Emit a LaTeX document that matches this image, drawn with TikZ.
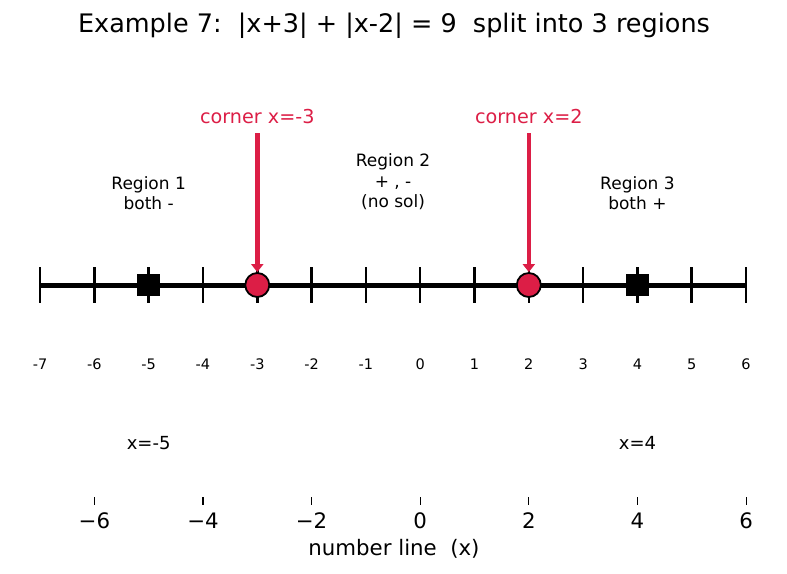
\documentclass[tikz,border=0pt]{standalone}
\usepackage{fontspec}
\setmainfont{DejaVu Sans}
\usetikzlibrary{arrows.meta}
\definecolor{crim}{RGB}{220,30,70}
\tikzset{
  numline/.style={line width=5pt},
  tickmark/.style={line width=2.5pt},
  corner/.style={circle, draw=black, line width=1.8pt, fill=crim, minimum size=24pt, inner sep=0pt},
  sqmark/.style={rectangle, fill=black, minimum size=22.5pt, inner sep=0pt},
  cornerlbl/.style={text=crim, font=\fontsize{19.2}{23}\selectfont, inner sep=0pt},
  regionlbl/.style={align=center, font=\fontsize{17}{20.4}\selectfont, inner sep=0pt},
  smalltick/.style={font=\fontsize{14.5}{17}\selectfont, inner sep=0pt},
  ptlbl/.style={font=\fontsize{18}{21}\selectfont, inner sep=0pt},
  axlbl/.style={font=\fontsize{21.3}{25}\selectfont, inner sep=0pt},
  cornerarrow/.style={draw=crim, line width=4.6pt, -{Triangle[length=8pt,width=12pt]}},
}
\begin{document}
\begin{tikzpicture}[x=1pt,y=-1pt]
\useasboundingbox (0,0) rectangle (787,573);
\def\ux{54.308}
\def\xo{420.2}
% title
\node[font=\fontsize{25.5}{30}\selectfont, inner sep=0pt] (title) at (394,26) {Example 7:\ \ |x+3| + |x-2| = 9\ \ split into 3 regions};
% number line
\coordinate (L) at (39,285);
\coordinate (R) at (747,285);
\draw[numline] (L) -- (R);
\foreach \v in {-7,...,6}{
  \draw[tickmark] ({\xo+\ux*\v},267) -- ({\xo+\ux*\v},303);
  \node[smalltick] (t\v) at ({\xo+\ux*\v},364) {\v};
}
% squares
\node[sqmark] (s1) at ({\xo+\ux*(-5)},285) {};
\node[sqmark] (s2) at ({\xo+\ux*4},285) {};
% corner circles
\node[corner] (c1) at ({\xo+\ux*(-3)},285) {};
\node[corner] (c2) at ({\xo+\ux*2},285) {};
% corner labels and arrows
\node[cornerlbl] (k1) at ({\xo+\ux*(-3)},117) {corner x=-3};
\node[cornerlbl] (k2) at ({\xo+\ux*2},117) {corner x=2};
\coordinate (a1) at ({\xo+\ux*(-3)},133);
\coordinate (a2) at ({\xo+\ux*2},133);
\draw[cornerarrow] (a1) -- (c1.north);
\draw[cornerarrow] (a2) -- (c2.north);
% region labels
\node[regionlbl] (r1) at ({\xo+\ux*(-5)},193) {Region 1\\both -};
\node[regionlbl] (r2) at ({\xo+\ux*(-0.5)},182) {Region 2\\+ , -\\(no sol)};
\node[regionlbl] (r3) at ({\xo+\ux*4},193) {Region 3\\both +};
% point labels
\node[ptlbl] (p1) at ({\xo+\ux*(-5)},443) {x=-5};
\node[ptlbl] (p2) at ({\xo+\ux*4},443) {x=4};
% bottom axis
\foreach \v/\lab in {-6/−6,-4/−4,-2/−2,0/0,2/2,4/4,6/6}{
  \draw[line width=1.1pt] ({\xo+\ux*\v},497) -- ({\xo+\ux*\v},505);
  \node[axlbl] (b\v) at ({\xo+\ux*\v},521) {\lab};
}
\node[axlbl] (xl) at (394,549) {number line\ \ (x)};
\end{tikzpicture}
\end{document}
